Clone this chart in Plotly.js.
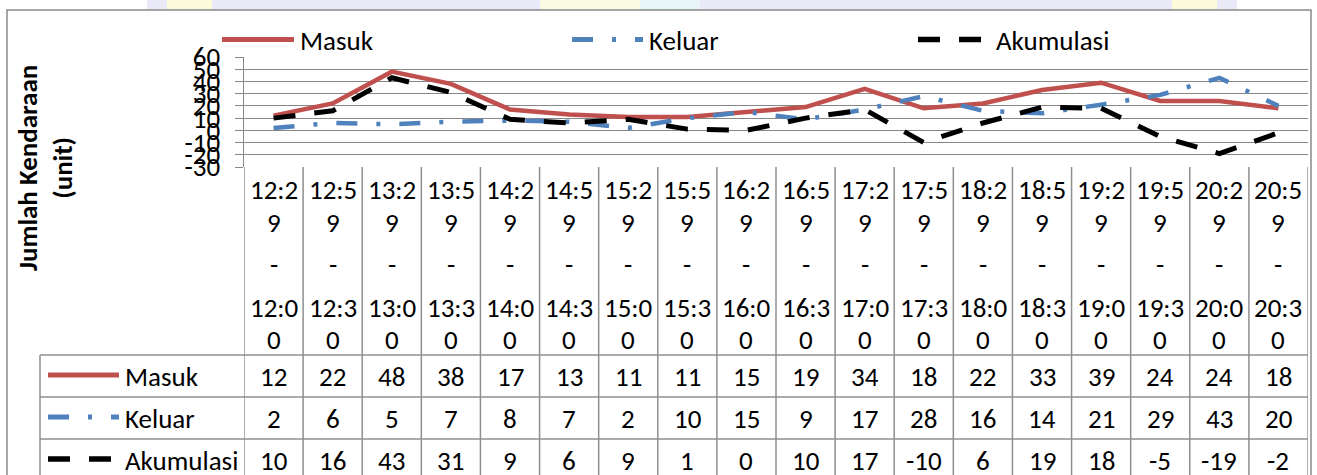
<!DOCTYPE html>
<html>
<head>
<meta charset="utf-8">
<script src="https://cdn.plot.ly/plotly-3.0.1.min.js"></script>
<style>
  html, body { margin: 0; padding: 0; background: #ffffff; }
  #chart { width: 1317px; height: 475px; }
</style>
</head>
<body>
<div id="chart"></div>
<script>
// ---- data ----
const categories = ["12:29 - 12:00","12:59 - 12:30","13:29 - 13:00","13:59 - 13:30","14:29 - 14:00","14:59 - 14:30","15:29 - 15:00","15:59 - 15:30","16:29 - 16:00","16:59 - 16:30","17:29 - 17:00","17:59 - 17:30","18:29 - 18:00","18:59 - 18:30","19:29 - 19:00","19:59 - 19:30","20:29 - 20:00","20:59 - 20:30"];
const masuk     = [12, 22, 48, 38, 17, 13, 11, 11, 15, 19, 34, 18, 22, 33, 39, 24, 24, 18];
const keluar    = [2, 6, 5, 7, 8, 7, 2, 10, 15, 9, 17, 28, 16, 14, 21, 29, 43, 20];
const akumulasi = [10, 16, 43, 31, 9, 6, 9, 1, 0, 10, 17, -10, 6, 19, 18, -5, -19, -2];
const seriesNames = ["Masuk", "Keluar", "Akumulasi"];
const yTicks = [-30, -20, -10, 0, 10, 20, 30, 40, 50, 60];
const yTitle = "Jumlah Kendaraan<br>(unit)";

// ---- styles / layout ----
const FONT = "Carlito, Lato, 'Liberation Sans', sans-serif";
const FS = 27;
const GRID = "#868686";
const TBL = "#8f8f8f";
const styles = [
  { color: "#C0504D", width: 4.5, dash: "solid" },
  { color: "#4F81BD", width: 4.5, dash: "21px,19px,4px,19px" },
  { color: "#000000", width: 5,   dash: "22px,19px" }
];
const seriesValues = [masuk, keluar, akumulasi];

const W = 1317, H = 475, L = 244, R = 1308, T = 57, B = 167;
const px = v => (v - L) / (R - L);
const py = v => (B - v) / (B - T);

const traces = seriesValues.map((vals, s) => ({
  type: "scatter", mode: "lines",
  x: categories, y: vals, name: seriesNames[s],
  line: { color: styles[s].color, width: styles[s].width, dash: styles[s].dash },
  hoverinfo: "skip", showlegend: false
}));

const shapes = [];
const annotations = [];

// watermark strip at top
shapes.push({ type: "rect", xref: "paper", yref: "paper", x0: px(147), x1: px(1237), y0: py(0), y1: py(10), line: { width: 0 }, fillcolor: "#e9e9f7", layer: "below" });
[[167, 212, "#fbfbdc"], [540, 640, "#fbfbe4"], [640, 700, "#e8f5f8"], [1172, 1217, "#fbfbdc"]].forEach(p => {
  shapes.push({ type: "rect", xref: "paper", yref: "paper", x0: px(p[0]), x1: px(p[1]), y0: py(0), y1: py(10), line: { width: 0 }, fillcolor: p[2], layer: "below" });
});

// chart border
shapes.push({ type: "rect", xref: "paper", yref: "paper", x0: px(7), x1: px(1311), y0: py(10), y1: py(490), line: { color: "#8a8a8a", width: 1.5 } });

// table vertical lines
for (let k = 0; k <= categories.length; k++) {
  shapes.push({ type: "line", xref: "x", yref: "paper", x0: k - 0.5, x1: k - 0.5, y0: py(B), y1: py(480), line: { color: TBL, width: 1.5 } });
}
// legend column left border
shapes.push({ type: "line", xref: "paper", yref: "paper", x0: px(40), x1: px(40), y0: py(355), y1: py(480), line: { color: TBL, width: 1.5 } });
// table horizontal lines
[355, 397, 439].forEach(yy => {
  shapes.push({ type: "line", xref: "paper", yref: "paper", x0: px(40), x1: px(R), y0: py(yy), y1: py(yy), line: { color: TBL, width: 1.5 } });
});

// header (category) labels, wrapped as in the original
const headerY = [189, 222.5, 264, 307, 339];
categories.forEach((c, i) => {
  const parts = c.split(" - ");
  const lines = [parts[0].slice(0, 4), parts[0].slice(4), "-", parts[1].slice(0, 4), parts[1].slice(4)];
  lines.forEach((t, j) => {
    annotations.push({ xref: "x", yref: "paper", x: i, y: py(headerY[j]), text: t, showarrow: false, xanchor: "center", yanchor: "middle", font: { family: FONT, size: FS, color: "#000" } });
  });
});

// value rows
const rowY = [376, 418, 460];
seriesValues.forEach((vals, s) => {
  vals.forEach((v, i) => {
    annotations.push({ xref: "x", yref: "paper", x: i, y: py(rowY[s]), text: String(v), showarrow: false, xanchor: "center", yanchor: "middle", font: { family: FONT, size: FS, color: "#000" } });
  });
  // row key + label
  shapes.push({ type: "line", xref: "paper", yref: "paper", x0: px(48), x1: px(119), y0: py(rowY[s] - 1), y1: py(rowY[s] - 1), line: { color: styles[s].color, width: styles[s].width + 0.5, dash: styles[s].dash } });
  annotations.push({ xref: "paper", yref: "paper", x: px(123), y: py(rowY[s]), text: seriesNames[s], showarrow: false, xanchor: "left", yanchor: "middle", font: { family: FONT, size: FS, color: "#000" } });
});

// top legend
const legendPos = [[222, 294, 298], [572, 643, 647], [918, 982, 994]];
seriesNames.forEach((n, s) => {
  const p = legendPos[s];
  shapes.push({ type: "line", xref: "paper", yref: "paper", x0: px(p[0]), x1: px(p[1]), y0: py(39.5), y1: py(39.5), line: { color: styles[s].color, width: styles[s].width + 0.5, dash: styles[s].dash } });
  annotations.push({ xref: "paper", yref: "paper", x: px(p[2]), y: py(40), text: n, showarrow: false, xanchor: "left", yanchor: "middle", font: { family: FONT, size: FS, color: "#000" } });
});

// y axis title
annotations.push({ xref: "paper", yref: "paper", x: px(45), y: py(168), text: "<b>" + yTitle + "</b>", showarrow: false, textangle: -90, xanchor: "center", yanchor: "middle", font: { family: FONT, size: 27, color: "#000" } });

const layout = {
  width: W, height: H,
  margin: { l: L, r: W - R, t: T, b: H - B, pad: 0 },
  paper_bgcolor: "#ffffff", plot_bgcolor: "#ffffff",
  showlegend: false,
  font: { family: FONT, size: FS, color: "#000" },
  xaxis: { type: "category", range: [-0.5, categories.length - 0.5], showticklabels: false, showgrid: false, zeroline: false, showline: false, ticks: "", fixedrange: true },
  yaxis: { range: [-30, 60], tickmode: "array", tickvals: yTicks, ticktext: yTicks.map(String), ticks: "outside", ticklen: 8, tickcolor: GRID, tickwidth: 1,
           showline: true, linecolor: GRID, linewidth: 1.5, showgrid: true, gridcolor: GRID, gridwidth: 1, zeroline: false,
           tickfont: { family: FONT, size: FS, color: "#000" }, ticklabelstandoff: 9, fixedrange: true },
  shapes: shapes, annotations: annotations
};

Plotly.newPlot("chart", traces, layout, { displayModeBar: false, staticPlot: true });
</script>
</body>
</html>
